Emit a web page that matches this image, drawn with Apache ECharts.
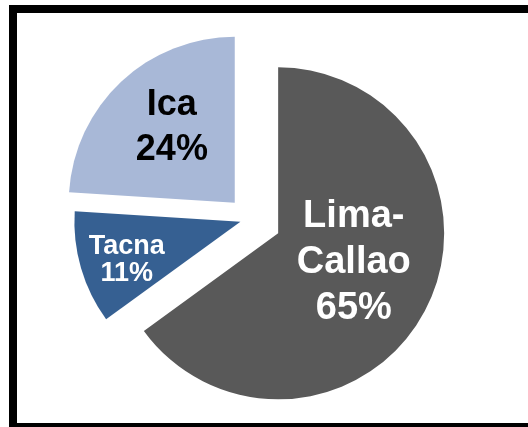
<!DOCTYPE html>
<html>
<head>
<meta charset="utf-8">
<script src="https://cdn.jsdelivr.net/npm/echarts@6/dist/echarts.min.js"></script>
<style>
html,body{margin:0;padding:0;background:#fff;}
#c{width:528px;height:427px;}
</style>
</head>
<body>
<div id="c"></div>
<script>
// Data
const categories = ['Lima-Callao', 'Tacna', 'Ica'];
const values = [65, 11, 24];

// Styling (not data)
const colors = ['#595959', '#366092', '#A8B8D7'];
const textColors = ['#ffffff', '#ffffff', '#000000'];
const baseFontSizes = [38, 10, 36];
const fontSizes = [38, 27, 36];
const lineHeights = [46, null, 45];
const explode = [31.6, 10, 22.3];
const labelShift = [[-1, -10], [-31, 14], [-4, -12]];

const chart = echarts.init(document.getElementById('c'), null, {renderer: 'canvas'});

const series = categories.map(function (visName, vi) {
  return {
    type: 'pie',
    center: [250, 219],
    radius: [0, 166],
    startAngle: 90,
    clockwise: true,
    selectedMode: 'multiple',
    selectedOffset: explode[vi],
    animation: false,
    silent: true,
    emphasis: {disabled: true},
    labelLine: {show: false},
    labelLayout: function () {
      return {dx: labelShift[vi][0], dy: labelShift[vi][1], fontSize: fontSizes[vi]};
    },
    data: categories.map(function (name, i) {
      const visible = i === vi;
      const lbl = {
        show: visible,
        position: 'inside',
        color: textColors[i],
        fontFamily: 'Liberation Sans, Arial, sans-serif',
        fontWeight: 'bold',
        fontSize: baseFontSizes[i],
        formatter: function (p) {
          return p.name.replace('-', '-\n') + '\n' + Math.round(p.percent) + '%';
        }
      };
      if (lineHeights[i]) lbl.lineHeight = lineHeights[i];
      return {
        name: name,
        value: values[i],
        selected: visible,
        itemStyle: {color: visible ? colors[i] : 'rgba(0,0,0,0)', borderWidth: 0},
        label: lbl
      };
    })
  };
});

chart.setOption({
  backgroundColor: '#ffffff',
  animation: false,
  graphic: [{
    type: 'rect',
    shape: {x: 13, y: 9, width: 540, height: 418},
    style: {fill: 'none', stroke: '#000000', lineWidth: 8},
    z: 100
  }],
  series: series
});
</script>
</body>
</html>
